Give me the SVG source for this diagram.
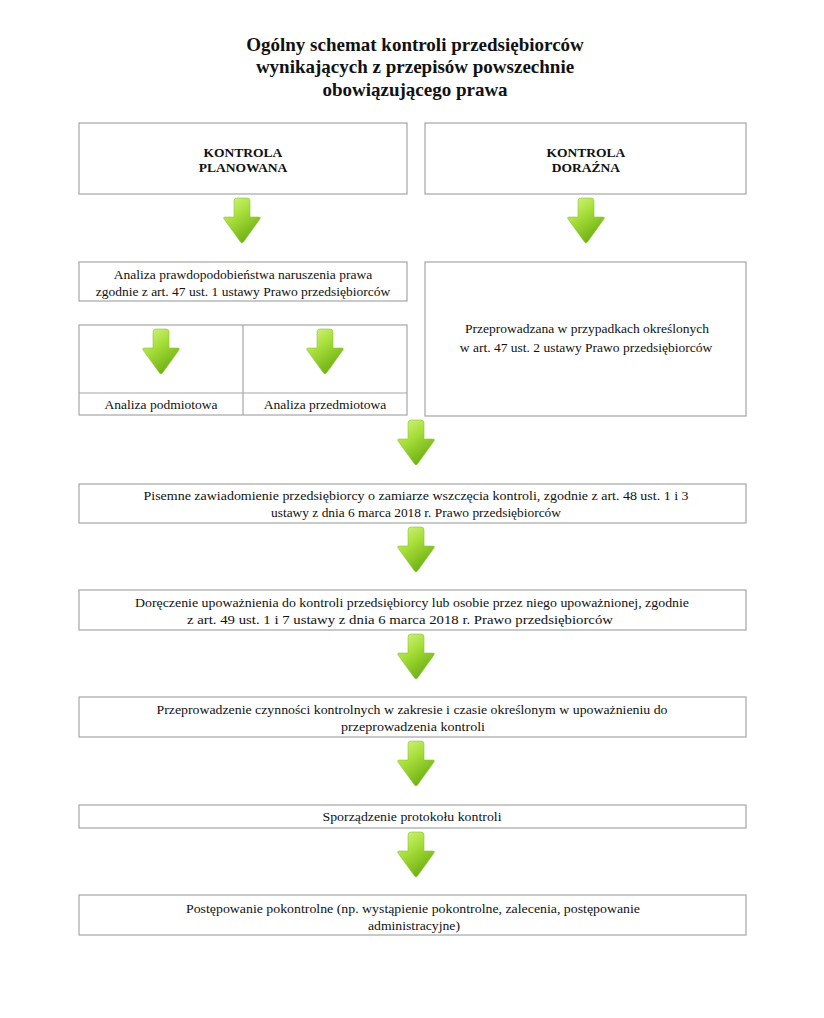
<svg xmlns="http://www.w3.org/2000/svg" xmlns:xlink="http://www.w3.org/1999/xlink" width="824" height="1018" viewBox="0 0 824 1018">
<style>
.box{fill:#ffffff;stroke:#a6a6a6;stroke-width:1.2}
.ln{stroke:#a6a6a6;stroke-width:1.2}
.t{font-family:"Liberation Serif","Times New Roman",serif;font-size:13.5px;fill:#111;text-anchor:middle}
.b{font-weight:bold;font-size:13.5px}
.title{font-family:"Liberation Serif","Times New Roman",serif;font-size:19px;font-weight:bold;fill:#111;text-anchor:middle}
</style>
<defs>
<linearGradient id="g" x1="0" y1="0" x2="0.6" y2="1">
<stop offset="0" stop-color="#d8f68a"/>
<stop offset="0.45" stop-color="#a8df3a"/>
<stop offset="1" stop-color="#6cae12"/>
</linearGradient>
<path id="arr" d="M-8,3 Q-8,0 -5,0 L5,0 Q8,0 8,3 L8,19 L17,19 Q19,19 18,21 L1.5,44 Q0,46 -1.5,44 L-18,21 Q-19,19 -17,19 L-8,19 Z" fill="url(#g)" stroke="#8cc63a" stroke-width="0.6"/>
</defs>
<rect width="824" height="1018" fill="#ffffff"/>
<g id="title">
<text class="title" x="415" y="51">Ogólny schemat kontroli przedsiębiorców</text>
<text class="title" x="415" y="73">wynikających z przepisów powszechnie</text>
<text class="title" x="415" y="96">obowiązującego prawa</text>
</g>
<g id="n-planowana">
<rect class="box" x="79" y="123" width="328" height="71"/>
<text class="t b" x="243" y="157">KONTROLA</text>
<text class="t b" x="243" y="172">PLANOWANA</text>
</g>
<g id="n-dorazna">
<rect class="box" x="425" y="123" width="321" height="71"/>
<text class="t b" x="586" y="157">KONTROLA</text>
<text class="t b" x="586" y="172">DORAŹNA</text>
</g>
<g id="n-analiza">
<rect class="box" x="79" y="262" width="328" height="39"/>
<text class="t" x="243" y="279">Analiza prawdopodobieństwa naruszenia prawa</text>
<text class="t" x="243" y="296">zgodnie z art. 47 ust. 1 ustawy Prawo przedsiębiorców</text>
</g>
<g id="n-analiza-typy">
<rect class="box" x="79" y="325" width="328" height="90"/>
<line class="ln" x1="243" y1="325" x2="243" y2="415"/>
<line class="ln" x1="79" y1="393" x2="407" y2="393"/>
<text class="t" x="161" y="409">Analiza podmiotowa</text>
<text class="t" x="325" y="409">Analiza przedmiotowa</text>
</g>
<g id="n-przeprowadzana">
<rect class="box" x="425" y="262" width="321" height="154"/>
<text class="t" x="587" y="333">Przeprowadzana w przypadkach określonych</text>
<text class="t" x="586" y="352">w art. 47 ust. 2 ustawy Prawo przedsiębiorców</text>
</g>
<g id="n-zawiadomienie">
<rect class="box" x="79" y="484" width="667" height="39"/>
<text class="t" x="416" y="500" textLength="545" lengthAdjust="spacingAndGlyphs">Pisemne zawiadomienie przedsiębiorcy o zamiarze wszczęcia kontroli, zgodnie z art. 48 ust. 1 i 3</text>
<text class="t" x="416" y="517" textLength="290" lengthAdjust="spacingAndGlyphs">ustawy z dnia 6 marca 2018 r. Prawo przedsiębiorców</text>
</g>
<g id="n-doreczenie">
<rect class="box" x="79" y="590" width="667" height="40"/>
<text class="t" x="412" y="607" textLength="554" lengthAdjust="spacingAndGlyphs">Doręczenie upoważnienia do kontroli przedsiębiorcy lub osobie przez niego upoważnionej, zgodnie</text>
<text class="t" x="400" y="624" textLength="426" lengthAdjust="spacingAndGlyphs">z art. 49 ust. 1 i 7 ustawy z dnia 6 marca 2018 r. Prawo przedsiębiorców</text>
</g>
<g id="n-czynnosci">
<rect class="box" x="79" y="697" width="667" height="40"/>
<text class="t" x="412" y="714" textLength="511" lengthAdjust="spacingAndGlyphs">Przeprowadzenie czynności kontrolnych w zakresie i czasie określonym w upoważnieniu do</text>
<text class="t" x="413" y="731" textLength="144" lengthAdjust="spacingAndGlyphs">przeprowadzenia kontroli</text>
</g>
<g id="n-protokol">
<rect class="box" x="79" y="805" width="667" height="23"/>
<text class="t" x="412" y="821" textLength="179" lengthAdjust="spacingAndGlyphs">Sporządzenie protokołu kontroli</text>
</g>
<g id="n-pokontrolne">
<rect class="box" x="79" y="895" width="667" height="40"/>
<text class="t" x="413" y="913" textLength="454" lengthAdjust="spacingAndGlyphs">Postępowanie pokontrolne (np. wystąpienie pokontrolne, zalecenia, postępowanie</text>
<text class="t" x="414" y="930" textLength="92" lengthAdjust="spacingAndGlyphs">administracyjne)</text>
</g>
<g id="connectors">
<use xlink:href="#arr" x="242" y="198"/>
<use xlink:href="#arr" x="586" y="198"/>
<use xlink:href="#arr" x="161" y="329"/>
<use xlink:href="#arr" x="325" y="329"/>
<use xlink:href="#arr" x="416" y="420"/>
<use xlink:href="#arr" x="416" y="527"/>
<use xlink:href="#arr" x="416" y="634"/>
<use xlink:href="#arr" x="416" y="741"/>
<use xlink:href="#arr" x="416" y="832"/>
</g>
</svg>
